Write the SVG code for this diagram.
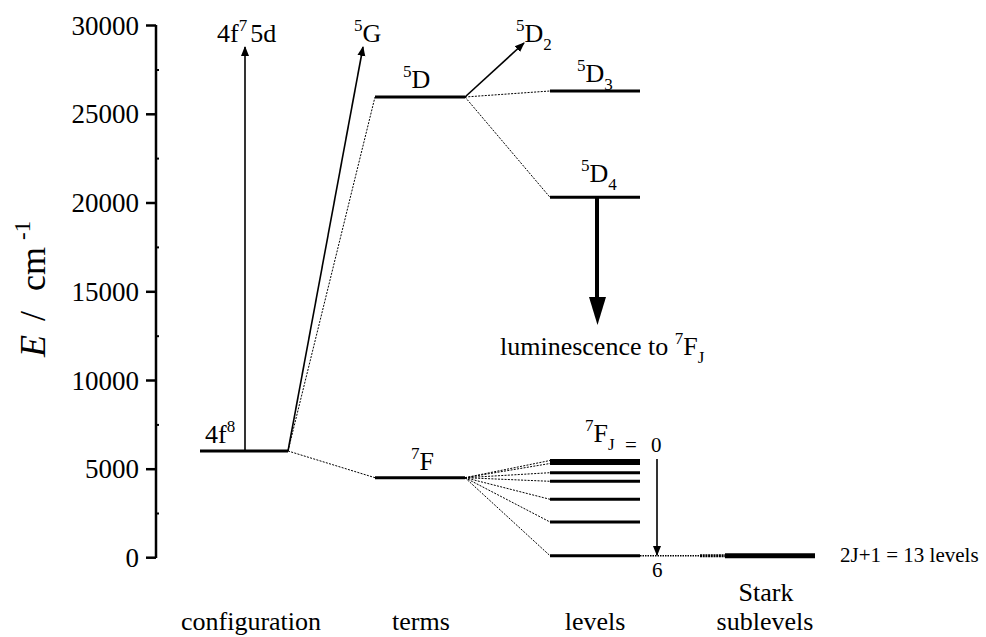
<svg xmlns="http://www.w3.org/2000/svg" width="986" height="637" viewBox="0 0 986 637" font-family="'Liberation Serif', 'DejaVu Serif', serif">
<style>
text{font-family:'Liberation Serif','DejaVu Serif',serif;fill:#000}
.tick{font-size:27px;text-anchor:end}
.cat{font-size:26px;text-anchor:middle}
.lab{font-size:26px}
.sm{font-size:17px}
.small{font-size:21px}
.lvl{stroke:#000;stroke-width:3;fill:none}
.dot{stroke:#000;stroke-width:1;stroke-dasharray:2 1.3;fill:none}
.arr{stroke:#000;stroke-width:1.6;fill:none}
.ax{stroke:#000;stroke-width:2.5;fill:none}
</style>
<defs>
<marker id="ah" markerWidth="10" markerHeight="10" refX="9" refY="5" orient="auto" markerUnits="userSpaceOnUse" viewBox="0 0 10 10">
<path d="M0,1 L10,5 L0,9 Z" fill="#000"/>
</marker>
</defs>
<g id="axis">
<line class="ax" x1="156" y1="25" x2="156" y2="558"/>
<g stroke="#000" stroke-width="2.5">
<line x1="146" y1="25.5" x2="156" y2="25.5"/>
<line x1="146" y1="114.3" x2="156" y2="114.3"/>
<line x1="146" y1="203" x2="156" y2="203"/>
<line x1="146" y1="291.8" x2="156" y2="291.8"/>
<line x1="146" y1="380.5" x2="156" y2="380.5"/>
<line x1="146" y1="469.2" x2="156" y2="469.2"/>
<line x1="146" y1="557.7" x2="156" y2="557.7"/>
</g>
<g stroke="#000" stroke-width="2">
<line x1="156" y1="70" x2="159" y2="70"/>
<line x1="156" y1="158.6" x2="159" y2="158.6"/>
<line x1="156" y1="247.4" x2="159" y2="247.4"/>
<line x1="156" y1="336.2" x2="159" y2="336.2"/>
<line x1="156" y1="424.9" x2="159" y2="424.9"/>
<line x1="156" y1="513.5" x2="159" y2="513.5"/>
</g>
<text class="tick" x="139" y="34.5">30000</text>
<text class="tick" x="139" y="123.3">25000</text>
<text class="tick" x="139" y="212">20000</text>
<text class="tick" x="139" y="300.8">15000</text>
<text class="tick" x="139" y="389.5">10000</text>
<text class="tick" x="139" y="478.2">5000</text>
<text class="tick" x="139" y="566.7">0</text>
<text transform="translate(45,357) rotate(-90)" font-size="36"><tspan x="0" font-style="italic">E</tspan><tspan x="36">/</tspan><tspan x="66">cm</tspan><tspan x="117" dy="-15" font-size="23">-1</tspan></text>
</g>
<g id="categories">
<text class="cat" x="251" y="630">configuration</text>
<text class="cat" x="421" y="630">terms</text>
<text class="cat" x="595" y="630">levels</text>
<text class="cat" x="766" y="601">Stark</text>
<text class="cat" x="765" y="630">sublevels</text>
</g>
<g id="config-4f8">
<line class="lvl" x1="200" y1="451" x2="288" y2="451"/>
<text class="lab" x="205" y="443">4f<tspan class="sm" dy="-11">8</tspan></text>
</g>
<g id="config-4f75d">
<text class="lab" x="217" y="42">4f<tspan class="sm" dy="-11">7</tspan><tspan dy="11" dx="3">5d</tspan></text>
</g>
<g id="term-5G">
<text class="lab" x="354" y="42"><tspan class="sm" dy="-11">5</tspan><tspan dy="11">G</tspan></text>
</g>
<g id="term-5D">
<line class="lvl" x1="375" y1="97" x2="465" y2="97"/>
<text class="lab" x="403" y="88"><tspan class="sm" dy="-11">5</tspan><tspan dy="11">D</tspan></text>
</g>
<g id="level-5D2">
<text class="lab" x="516" y="42"><tspan class="sm" dy="-11">5</tspan><tspan dy="11">D</tspan><tspan class="sm" dy="8">2</tspan></text>
</g>
<g id="level-5D3">
<line class="lvl" x1="550" y1="91" x2="640" y2="91"/>
<text class="lab" x="577" y="82"><tspan class="sm" dy="-11">5</tspan><tspan dy="11">D</tspan><tspan class="sm" dy="8">3</tspan></text>
</g>
<g id="level-5D4">
<line class="lvl" x1="550" y1="197.3" x2="640" y2="197.3"/>
<text class="lab" x="581" y="182"><tspan class="sm" dy="-11">5</tspan><tspan dy="11">D</tspan><tspan class="sm" dy="8">4</tspan></text>
</g>
<g id="luminescence">
<text class="lab" x="500" y="355">luminescence to <tspan class="sm" dy="-11">7</tspan><tspan dy="11">F</tspan><tspan class="sm" dy="8">J</tspan></text>
</g>
<g id="term-7F">
<line class="lvl" x1="375" y1="477.7" x2="465" y2="477.7"/>
<text class="lab" x="411" y="470"><tspan class="sm" dy="-11">7</tspan><tspan dy="11">F</tspan></text>
</g>
<g id="levels-7FJ">
<line class="lvl" x1="550" y1="460.5" x2="640" y2="460.5"/>
<line class="lvl" x1="550" y1="463.5" x2="640" y2="463.5"/>
<line class="lvl" x1="550" y1="472.7" x2="640" y2="472.7"/>
<line class="lvl" x1="550" y1="481.3" x2="640" y2="481.3"/>
<line class="lvl" x1="550" y1="499.3" x2="640" y2="499.3"/>
<line class="lvl" x1="550" y1="522" x2="640" y2="522"/>
<line class="lvl" x1="550" y1="555.7" x2="640" y2="555.7"/>
<text class="lab" x="585" y="442"><tspan class="sm" dy="-11">7</tspan><tspan dy="11">F</tspan><tspan class="sm" dy="8">J</tspan><tspan class="small" x="625" dy="2">=</tspan><tspan class="small" x="651">0</tspan></text>
<text class="small" x="652" y="577">6</text>
</g>
<g id="stark">
<line x1="640" y1="555.7" x2="700" y2="555.7" stroke="#000" stroke-width="1.6" stroke-dasharray="1.5 1"/>
<line x1="700" y1="555.7" x2="726" y2="555.7" stroke="#000" stroke-width="3" stroke-dasharray="2 0.7"/>
<line x1="725" y1="555.7" x2="815" y2="555.7" stroke="#000" stroke-width="5"/>
<text class="small" x="840" y="562">2J+1 = 13 levels</text>
</g>
<g id="connectors">
<line class="arr" x1="245" y1="451" x2="245" y2="47" marker-end="url(#ah)"/>
<line class="arr" x1="288" y1="451" x2="363" y2="47" marker-end="url(#ah)"/>
<line class="arr" x1="465" y1="97" x2="524" y2="43" marker-end="url(#ah)"/>
<line class="arr" x1="657" y1="459" x2="657" y2="555" marker-end="url(#ah)"/>
<line x1="597" y1="197" x2="597" y2="300" stroke="#000" stroke-width="4"/>
<path d="M589,297 L606,297 L597.5,325 Z" fill="#000"/>
<line class="dot" x1="288" y1="451" x2="375" y2="97"/>
<line class="dot" x1="288" y1="451" x2="375" y2="477.7"/>
<line class="dot" x1="465" y1="97" x2="550" y2="91"/>
<line class="dot" x1="465" y1="97" x2="550" y2="197.3"/>
<line class="dot" x1="465" y1="477.7" x2="550" y2="460.5"/>
<line class="dot" x1="465" y1="477.7" x2="550" y2="463.5"/>
<line class="dot" x1="465" y1="477.7" x2="550" y2="472.7"/>
<line class="dot" x1="465" y1="477.7" x2="550" y2="481.3"/>
<line class="dot" x1="465" y1="477.7" x2="550" y2="499.3"/>
<line class="dot" x1="465" y1="477.7" x2="550" y2="522"/>
<line class="dot" x1="465" y1="477.7" x2="550" y2="555.7"/>
</g>
</svg>
